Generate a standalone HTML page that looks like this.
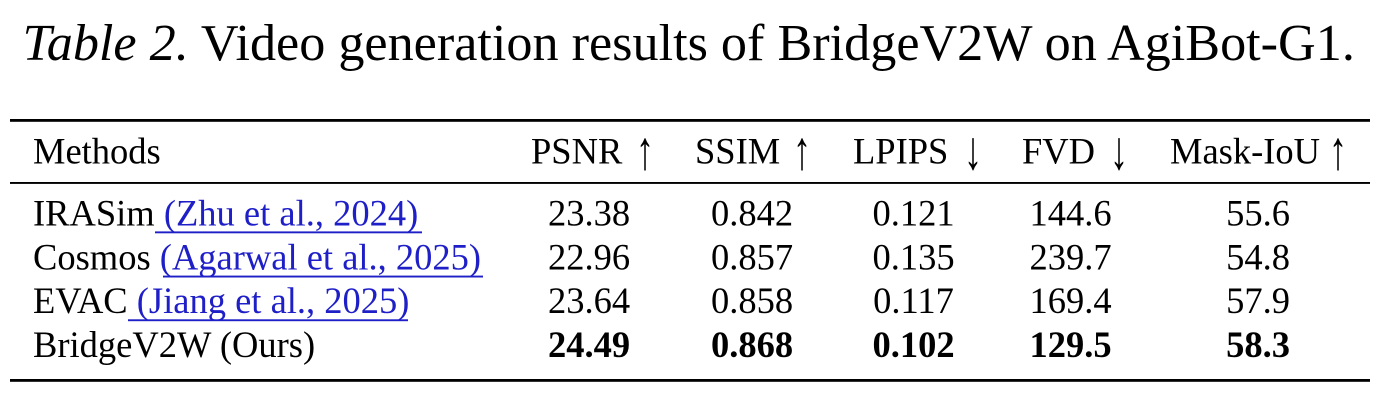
<!DOCTYPE html>
<html>
<head>
<meta charset="utf-8">
<style>
  html, body { margin: 0; padding: 0; background: #fff; }
  body { width: 1400px; height: 400px; overflow: hidden; }
  svg { display: block; }
  text { font-family: "Liberation Serif", "Times New Roman", serif; fill: #000; }
  .link { fill: #1f1fc8; }
</style>
</head>
<body>
<svg width="1400" height="400" viewBox="0 0 1400 400" xmlns="http://www.w3.org/2000/svg">
  <rect x="0" y="0" width="1400" height="400" fill="#fff"/>

  <!-- Caption -->
  <text x="22.5" y="60" font-size="52.2"><tspan font-style="italic">Table 2.</tspan><tspan> Video generation results of BridgeV2W on AgiBot-G1.</tspan></text>

  <!-- Rules -->
  <rect x="10" y="119" width="1360" height="2.8" fill="#000"/>
  <rect x="10" y="182" width="1360" height="1.9" fill="#000"/>
  <rect x="10" y="379" width="1360" height="2.8" fill="#000"/>

  <!-- Header -->
  <g font-size="36.5">
    <text x="33" y="163.3">Methods</text>
    <text x="531" y="163.3">PSNR</text>
    <text transform="translate(645,169) scale(1,1.5)" text-anchor="middle">↑</text>
    <text x="695" y="163.3">SSIM</text>
    <text transform="translate(802,169) scale(1,1.5)" text-anchor="middle">↑</text>
    <text x="853" y="163.3">LPIPS</text>
    <text transform="translate(973,169) scale(1,1.5)" text-anchor="middle">↓</text>
    <text x="1022" y="163.3">FVD</text>
    <text transform="translate(1119,169) scale(1,1.5)" text-anchor="middle">↓</text>
    <text x="1170" y="163.3">Mask-IoU</text>
    <text transform="translate(1338,169) scale(1,1.5)" text-anchor="middle">↑</text>
  </g>

  <!-- Rows -->
  <g font-size="36.5">
    <!-- Row 1 -->
    <text x="33" y="225.7">IRASim<tspan class="link"> (Zhu et al., 2024)</tspan></text>
    <rect x="155" y="231.4" width="267" height="1.9" fill="#1f1fc8"/>
    <text x="589" y="225.7" text-anchor="middle">23.38</text>
    <text x="752" y="225.7" text-anchor="middle">0.842</text>
    <text x="913.5" y="225.7" text-anchor="middle">0.121</text>
    <text x="1070.5" y="225.7" text-anchor="middle">144.6</text>
    <text x="1258" y="225.7" text-anchor="middle">55.6</text>

    <!-- Row 2 -->
    <text x="33" y="269.4">Cosmos <tspan class="link">(Agarwal et al., 2025)</tspan></text>
    <rect x="163" y="275.6" width="320" height="1.9" fill="#1f1fc8"/>
    <text x="589" y="269.4" text-anchor="middle">22.96</text>
    <text x="752" y="269.4" text-anchor="middle">0.857</text>
    <text x="913.5" y="269.4" text-anchor="middle">0.135</text>
    <text x="1070.5" y="269.4" text-anchor="middle">239.7</text>
    <text x="1258" y="269.4" text-anchor="middle">54.8</text>

    <!-- Row 3 -->
    <text x="33" y="313.1">EVAC<tspan class="link"> (Jiang et al., 2025)</tspan></text>
    <rect x="128" y="319.3" width="280" height="1.9" fill="#1f1fc8"/>
    <text x="589" y="313.1" text-anchor="middle">23.64</text>
    <text x="752" y="313.1" text-anchor="middle">0.858</text>
    <text x="913.5" y="313.1" text-anchor="middle">0.117</text>
    <text x="1070.5" y="313.1" text-anchor="middle">169.4</text>
    <text x="1258" y="313.1" text-anchor="middle">57.9</text>

    <!-- Row 4 -->
    <text x="33" y="356.8">BridgeV2W (Ours)</text>
    <g font-weight="bold">
      <text x="589" y="356.8" text-anchor="middle">24.49</text>
      <text x="752" y="356.8" text-anchor="middle">0.868</text>
      <text x="913.5" y="356.8" text-anchor="middle">0.102</text>
      <text x="1070.5" y="356.8" text-anchor="middle">129.5</text>
      <text x="1258" y="356.8" text-anchor="middle">58.3</text>
    </g>
  </g>
</svg>
</body>
</html>
